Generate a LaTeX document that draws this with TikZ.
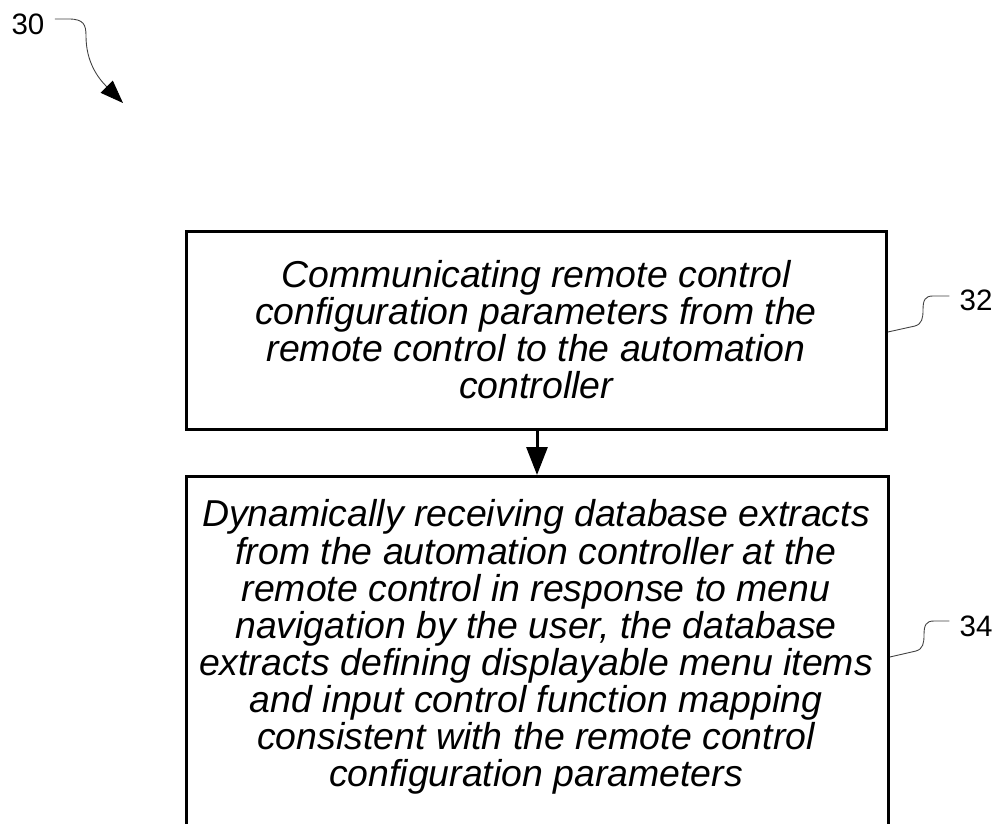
\documentclass[tikz,border=0pt]{standalone}
\usepackage{fontspec}
\setmainfont{Liberation Sans}
\usetikzlibrary{arrows.meta}
\tikzset{
  stepbox/.style={draw=black, line width=1.7pt, inner sep=0pt, fill=none},
  steptext/.style={font=\fontsize{21.3}{21.1}\selectfont\itshape, align=center, inner sep=0pt},
  reflabel/.style={font=\fontsize{16.8}{20}\selectfont, inner sep=0pt},
  leader/.style={draw=black!75, line width=0.5pt},
  flow/.style={draw=black, line width=1.7pt, -{Triangle[length=0.56cm, width=0.42cm]}},
}
\begin{document}
\begin{tikzpicture}[x=0.02cm, y=-0.02cm]
  \useasboundingbox (0,0) rectangle (1000,824);

  % process steps
  \node[stepbox, minimum width=14cm, minimum height=3.96cm, anchor=north west] (s32) at (185,230) {};
  \node[steptext] (t32) at (536,330) {Communicating remote control\\configuration parameters from the\\remote control to the automation\\controller};

  \node[stepbox, minimum width=14.04cm, minimum height=7.4cm, anchor=north west] (s34) at (185,475) {};
  \node[steptext] (t34) at (536,647) {Dynamically receiving database extracts\\from the automation controller at the\\remote control in response to menu\\navigation by the user, the database\\extracts defining displayable menu items\\and input control function mapping\\consistent with the remote control\\configuration parameters};

  % flow between steps
  \draw[flow] (s32.south -| 537,0) -- (s34.north -| 537,0);

  % reference numerals
  \node[reflabel] (r30) at (28,24) {30};
  \node[reflabel] (r32) at (976,300) {32};
  \node[reflabel] (r34) at (976,626) {34};

  \coordinate (p30) at (123,103);
  \draw[leader, -{Triangle[length=0.46cm, width=0.34cm, color=black]}] (r30.east) ++(10,-5) -- ++(14,0)
     .. controls (84,19) and (86,25) .. (86,36)
     .. controls (86,62) and (98,78) .. (p30);

  \coordinate (e32) at (s32.east |- 0,332);
  \draw[leader] (e32) -- (915,326) .. controls (922,324) and (923,318) .. (923,310)
     .. controls (923,300) and (925,296) .. (933,296) -- ([xshift=-0.2cm]r32.west |- 0,296);

  \coordinate (e34) at (s34.east |- 0,657);
  \draw[leader] (e34) -- (916,651) .. controls (923,649) and (924,643) .. (924,635)
     .. controls (924,625) and (926,621) .. (934,621) -- ([xshift=-0.2cm]r34.west |- 0,621);
\end{tikzpicture}
\end{document}
